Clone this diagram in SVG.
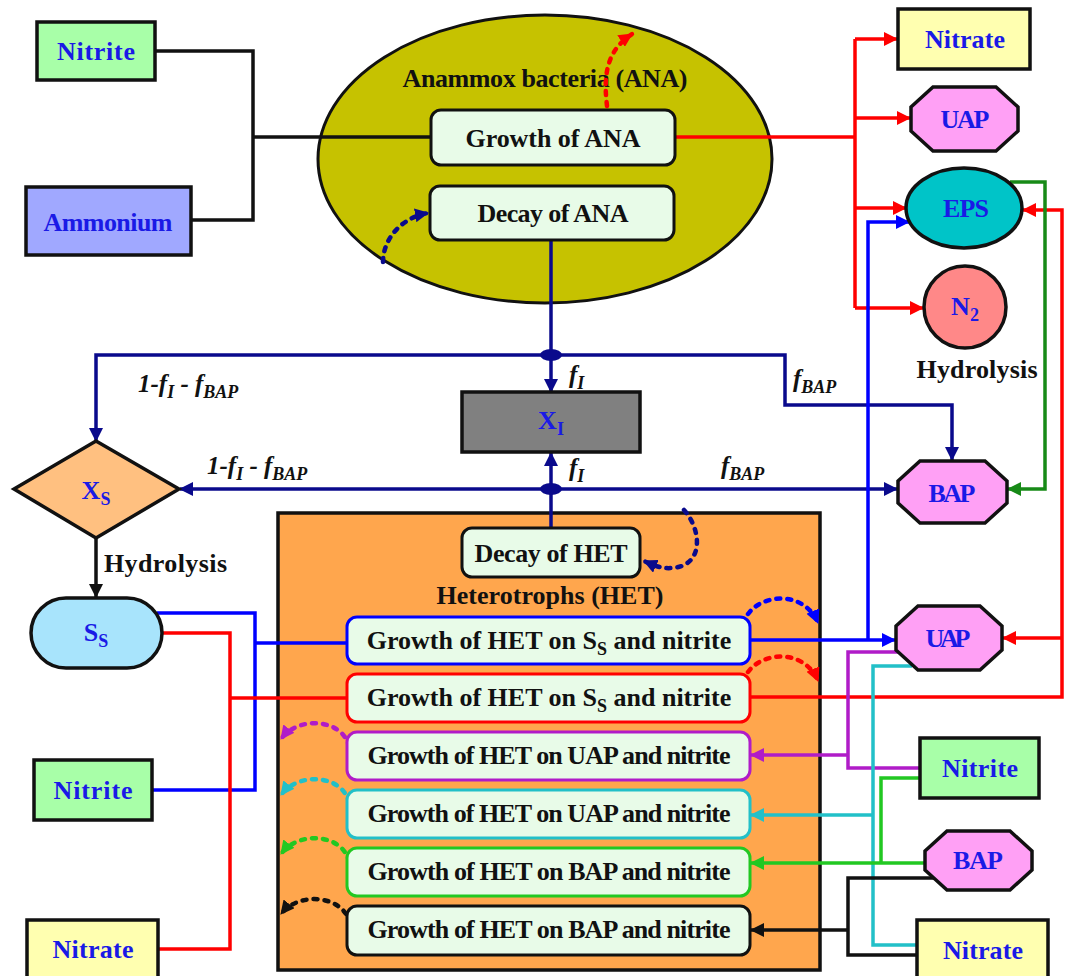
<svg xmlns="http://www.w3.org/2000/svg" width="1070" height="976" viewBox="0 0 1070 976">
<style>
.t{font-family:"Liberation Serif","Times New Roman",serif;font-weight:bold}
.lbl{font-size:26px;fill:#1a1ae6;text-anchor:middle}
.blk{font-size:26px;fill:#111;text-anchor:middle}
.it{font-size:25px;fill:#111;font-style:italic}
.sub{font-size:18px}
.box{stroke:#111;stroke-width:3.5}
.gbox{fill:#e8fbe8;stroke-width:3}
.ln{fill:none;stroke-width:3.5;stroke-linejoin:miter}
.dot{fill:none;stroke-width:4.5;stroke-dasharray:4 7;stroke-linecap:round}
</style>
<defs>
<marker id="aK" markerUnits="userSpaceOnUse" markerWidth="14" markerHeight="14" refX="13" refY="7" orient="auto"><path d="M0,0 L14,7 L0,14 z" fill="#111"/></marker>
<marker id="aR" markerUnits="userSpaceOnUse" markerWidth="14" markerHeight="14" refX="13" refY="7" orient="auto"><path d="M0,0 L14,7 L0,14 z" fill="#ff0000"/></marker>
<marker id="aN" markerUnits="userSpaceOnUse" markerWidth="14" markerHeight="14" refX="13" refY="7" orient="auto"><path d="M0,0 L14,7 L0,14 z" fill="#0a0a8c"/></marker>
<marker id="aB" markerUnits="userSpaceOnUse" markerWidth="14" markerHeight="14" refX="13" refY="7" orient="auto"><path d="M0,0 L14,7 L0,14 z" fill="#0000ff"/></marker>
<marker id="aG" markerUnits="userSpaceOnUse" markerWidth="14" markerHeight="14" refX="13" refY="7" orient="auto"><path d="M0,0 L14,7 L0,14 z" fill="#178a17"/></marker>
<marker id="aL" markerUnits="userSpaceOnUse" markerWidth="14" markerHeight="14" refX="13" refY="7" orient="auto"><path d="M0,0 L14,7 L0,14 z" fill="#22c822"/></marker>
<marker id="aP" markerUnits="userSpaceOnUse" markerWidth="14" markerHeight="14" refX="13" refY="7" orient="auto"><path d="M0,0 L14,7 L0,14 z" fill="#b01cc8"/></marker>
<marker id="aC" markerUnits="userSpaceOnUse" markerWidth="14" markerHeight="14" refX="13" refY="7" orient="auto"><path d="M0,0 L14,7 L0,14 z" fill="#22c0c8"/></marker>
</defs>
<rect width="1070" height="976" fill="#fff"/>

<!-- containers -->
<g id="ana-group">
<ellipse cx="545" cy="159" rx="227" ry="144" fill="#c6c200" stroke="#111" stroke-width="3"/>
<text class="t blk" x="545" y="87" font-size="24" textLength="285">Anammox bacteria (ANA)</text>
</g>
<g id="het-group">
<rect x="278" y="513" width="542" height="457" fill="#ffa64d" stroke="#111" stroke-width="3.5"/>
<text class="t blk" x="550" y="604" font-size="25" textLength="227">Heterotrophs (HET)</text>
</g>

<!-- connectors -->
<g id="connectors">
<path class="ln" stroke="#111" stroke-width="4" d="M155,51 H253 V220 H191"/>
<path class="ln" stroke="#111" stroke-width="4" d="M253,137 H431"/>
<path class="ln" stroke="#ff0000" d="M675,137 H855"/>
<path class="ln" stroke="#ff0000" d="M855,39 V308"/>
<path class="ln" stroke="#ff0000" d="M855,39 H897" marker-end="url(#aR)"/>
<path class="ln" stroke="#ff0000" d="M855,118 H910" marker-end="url(#aR)"/>
<path class="ln" stroke="#ff0000" d="M855,208 H906" marker-end="url(#aR)"/>
<path class="ln" stroke="#ff0000" d="M855,308 H923" marker-end="url(#aR)"/>
<path class="ln" stroke="#0a0a8c" d="M551,240 V355"/>
<path class="ln" stroke="#0a0a8c" d="M551,355 H96 V441" marker-end="url(#aN)"/>
<path class="ln" stroke="#0a0a8c" d="M551,355 H785 V405 H952 V460" marker-end="url(#aN)"/>
<path class="ln" stroke="#0a0a8c" d="M551,355 V392" marker-end="url(#aN)"/>
<path class="ln" stroke="#0a0a8c" d="M551,528 V489"/>
<path class="ln" stroke="#0a0a8c" d="M551,489 V453" marker-end="url(#aN)"/>
<path class="ln" stroke="#0a0a8c" d="M551,489 H180" marker-end="url(#aN)"/>
<path class="ln" stroke="#0a0a8c" d="M551,489 H897" marker-end="url(#aN)"/>
<ellipse cx="551" cy="355" rx="11" ry="6" fill="#0a0a8c"/>
<ellipse cx="551" cy="489" rx="11" ry="6" fill="#0a0a8c"/>
<path class="ln" stroke="#111" stroke-width="4" d="M96,538 V597" marker-end="url(#aK)"/>
<path class="ln" stroke="#0000ff" d="M157,613 H255 V790 H152"/>
<path class="ln" stroke="#0000ff" d="M255,643 H347"/>
<path class="ln" stroke="#0000ff" d="M750,640 H895" marker-end="url(#aB)"/>
<path class="ln" stroke="#0000ff" d="M868,640 V222 H909" marker-end="url(#aB)"/>
<path class="ln" stroke="#ff0000" d="M162,633 H230 V949 H158"/>
<path class="ln" stroke="#ff0000" d="M230,698 H347"/>
<path class="ln" stroke="#ff0000" d="M750,697 H1062 V210 H1023" marker-end="url(#aR)"/>
<path class="ln" stroke="#ff0000" d="M1062,638 H1003" marker-end="url(#aR)"/>
<path class="ln" stroke="#178a17" d="M1010,182 H1045 V489 H1008" marker-end="url(#aG)"/>
<path class="ln" stroke="#b01cc8" d="M898,652 H848 V768 H920"/>
<path class="ln" stroke="#b01cc8" d="M848,755 H751" marker-end="url(#aP)"/>
<path class="ln" stroke="#22c0c8" d="M912,666 H873 V945 H917"/>
<path class="ln" stroke="#22c0c8" d="M873,815 H751" marker-end="url(#aC)"/>
<path class="ln" stroke="#22c822" d="M920,778 H881 V863"/>
<path class="ln" stroke="#22c822" d="M924,863 H751" marker-end="url(#aL)"/>
<path class="ln" stroke="#111" d="M937,878 H848 V955 H917"/>
<path class="ln" stroke="#111" d="M848,930 H751" marker-end="url(#aK)"/>
<path class="dot" stroke="#ff0000" d="M607,106 C604,80 604,52 632,34" marker-end="url(#aR)"/>
<path class="dot" stroke="#0a0a8c" d="M383,262 C383,240 400,218 428,213" marker-end="url(#aN)"/>
<path class="dot" stroke="#0a0a8c" d="M684,510 C702,530 704,566 672,568 C661,569 653,565 644,561" marker-end="url(#aN)"/>
<path class="dot" stroke="#0000ff" d="M748,614 C762,594 804,590 818,623" marker-end="url(#aB)"/>
<path class="dot" stroke="#ff0000" d="M748,672 C762,652 804,648 818,681" marker-end="url(#aR)"/>
<path class="dot" stroke="#b01cc8" d="M349,747 C344,720 300,714 281,739" marker-end="url(#aP)"/>
<path class="dot" stroke="#22c0c8" d="M349,803 C344,776 300,770 281,795" marker-end="url(#aC)"/>
<path class="dot" stroke="#22c822" d="M349,862 C344,835 300,829 281,854" marker-end="url(#aL)"/>
<path class="dot" stroke="#111" d="M350,924 C345,896 300,890 281,914" marker-end="url(#aK)"/>
</g>

<g id="fractions" class="t it">
<text x="138" y="392">1-<tspan>f</tspan><tspan class="sub" dy="6">I</tspan><tspan dy="-6"> - f</tspan><tspan class="sub" dy="6">BAP</tspan></text>
<text x="207" y="474">1-<tspan>f</tspan><tspan class="sub" dy="6">I</tspan><tspan dy="-6"> - f</tspan><tspan class="sub" dy="6">BAP</tspan></text>
<text x="569" y="383">f<tspan class="sub" dy="6">I</tspan></text>
<text x="569" y="476">f<tspan class="sub" dy="6">I</tspan></text>
<text x="793" y="387">f<tspan class="sub" dy="6">BAP</tspan></text>
<text x="721" y="474">f<tspan class="sub" dy="6">BAP</tspan></text>
</g>
<text class="t blk" x="104" y="572" style="text-anchor:start" textLength="123">Hydrolysis</text>
<text class="t blk" x="977" y="378" textLength="121">Hydrolysis</text>

<g id="nitrite-tl"><rect class="box" x="37" y="22" width="118" height="58" fill="#a8ffa8"/><text class="t lbl" x="96" y="60" textLength="78">Nitrite</text></g>
<g id="ammonium"><rect class="box" x="26" y="187" width="165" height="68" fill="#a0a8ff"/><text class="t lbl" x="108" y="231" textLength="129">Ammonium</text></g>
<g id="growth-ana"><rect class="gbox" stroke="#111" x="431" y="110" width="244" height="55" rx="10"/><text class="t blk" x="553" y="147" textLength="175">Growth of ANA</text></g>
<g id="decay-ana"><rect class="gbox" stroke="#111" x="430" y="186" width="244" height="54" rx="10"/><text class="t blk" x="553" y="222" textLength="151">Decay of ANA</text></g>
<g id="nitrate-tr"><rect class="box" x="898" y="9" width="132" height="60" fill="#ffffb0"/><text class="t lbl" x="965" y="48" textLength="80">Nitrate</text></g>
<g id="uap-top"><polygon class="box" fill="#ffa0f5" points="933,87 996,87 1018,107 1018,131 996,151 933,151 911,131 911,107"/><text class="t lbl" x="965" y="128" textLength="49">UAP</text></g>
<g id="eps"><ellipse class="box" cx="964" cy="208" rx="58" ry="40" fill="#00c4c8"/><text class="t lbl" x="966" y="217" font-size="24" textLength="46">EPS</text></g>
<g id="n2"><circle class="box" cx="965" cy="307" r="41" fill="#ff8888"/><text class="t lbl" x="965" y="315" font-size="25">N<tspan class="sub" dy="6">2</tspan></text></g>
<g id="xi"><rect class="box" x="462" y="392" width="178" height="60" fill="#808080"/><text class="t lbl" x="551" y="429" font-size="25">X<tspan class="sub" dy="6">I</tspan></text></g>
<g id="bap-top"><polygon class="box" fill="#ffa0f5" points="920,461 985,461 1007,481 1007,503 985,523 920,523 898,503 898,481"/><text class="t lbl" x="952" y="502" textLength="47">BAP</text></g>
<g id="xs"><polygon class="box" fill="#ffc080" points="96,441 179,489 96,538 14,489"/><text class="t lbl" x="96" y="499" font-size="25">X<tspan class="sub" dy="6">S</tspan></text></g>
<g id="ss"><rect class="box" x="31" y="598" width="131" height="70" rx="35" fill="#a8e4fc"/><text class="t lbl" x="96" y="641" font-size="25">S<tspan class="sub" dy="6">S</tspan></text></g>
<g id="nitrite-l"><rect class="box" x="34" y="760" width="118" height="60" fill="#a8ffa8"/><text class="t lbl" x="93" y="799" textLength="79">Nitrite</text></g>
<g id="nitrate-l"><rect class="box" x="27" y="920" width="131" height="62" fill="#ffffb0"/><text class="t lbl" x="93" y="958" textLength="81">Nitrate</text></g>
<g id="decay-het"><rect class="gbox" stroke="#111" x="462" y="528" width="178" height="49" rx="10"/><text class="t blk" x="551" y="562" textLength="153">Decay of HET</text></g>
<g id="growth-het-1"><rect class="gbox" stroke="#0000ff" x="347" y="617" width="403" height="47" rx="10"/><text class="t blk" x="549" y="649">Growth of HET on S<tspan class="sub" dy="6">S</tspan><tspan dy="-6"> and nitrite</tspan></text></g>
<g id="growth-het-2"><rect class="gbox" stroke="#ff0000" x="347" y="674" width="403" height="48" rx="10"/><text class="t blk" x="549" y="706">Growth of HET on S<tspan class="sub" dy="6">S</tspan><tspan dy="-6"> and nitrite</tspan></text></g>
<g id="growth-het-3"><rect class="gbox" stroke="#b01cc8" x="347" y="732" width="403" height="48" rx="10"/><text class="t blk" x="549" y="764" font-size="23" textLength="363">Growth of HET on UAP and nitrite</text></g>
<g id="growth-het-4"><rect class="gbox" stroke="#22c0c8" x="347" y="790" width="403" height="48" rx="10"/><text class="t blk" x="549" y="822" font-size="23" textLength="363">Growth of HET on UAP and nitrite</text></g>
<g id="growth-het-5"><rect class="gbox" stroke="#22c822" x="347" y="848" width="403" height="48" rx="10"/><text class="t blk" x="549" y="880" font-size="23" textLength="363">Growth of HET on BAP and nitrite</text></g>
<g id="growth-het-6"><rect class="gbox" stroke="#111" x="347" y="906" width="403" height="49" rx="10"/><text class="t blk" x="549" y="938" font-size="23" textLength="363">Growth of HET on BAP and nitrite</text></g>
<g id="uap-low"><polygon class="box" fill="#ffa0f5" points="918,606 980,606 1002,626 1002,650 980,670 918,670 896,650 896,626"/><text class="t lbl" x="948" y="647" textLength="45">UAP</text></g>
<g id="nitrite-r"><rect class="box" x="920" y="738" width="119" height="60" fill="#a8ffa8"/><text class="t lbl" x="980" y="777" textLength="76">Nitrite</text></g>
<g id="bap-low"><polygon class="box" fill="#ffa0f5" points="947,831 1010,831 1032,851 1032,870 1010,890 947,890 925,870 925,851"/><text class="t lbl" x="978" y="869" textLength="50">BAP</text></g>
<g id="nitrate-r"><rect class="box" x="917" y="920" width="131" height="62" fill="#ffffb0"/><text class="t lbl" x="983" y="959" textLength="80">Nitrate</text></g>
</svg>
